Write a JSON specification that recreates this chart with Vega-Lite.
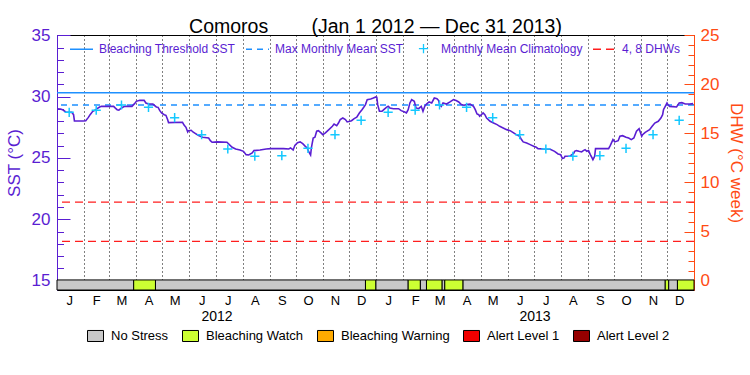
{
"$schema": "https://vega.github.io/schema/vega-lite/v6.json",
"width": 637, "height": 255,
"autosize": {"type": "none"},
"padding": {"left": 57, "top": 35, "right": 56, "bottom": 85},
"background": "white",
"title": {"text": "Comoros\u00a0\u00a0\u00a0\u00a0\u00a0\u00a0\u00a0\u00a0(Jan 1 2012 \u2014 Dec 31 2013)", "font": "Liberation Sans", "fontSize": 19.5, "fontWeight": "normal", "color": "black", "anchor": "middle", "frame": "group", "baseline": "alphabetic", "offset": -26},
"config": {"view": {"stroke": "black", "strokeWidth": 1}, "axis": {"labelFont": "Liberation Sans", "titleFont": "Liberation Sans", "titleFontWeight": "normal"}, "legend": {"labelFont": "Liberation Sans"}},
"datasets": {
"stress": [
{"start": "2012-01-01", "end": "2012-03-29", "status": "No Stress"},
{"start": "2012-03-29", "end": "2012-04-23", "status": "Bleaching Watch"},
{"start": "2012-04-23", "end": "2012-12-20", "status": "No Stress"},
{"start": "2012-12-20", "end": "2013-01-01", "status": "Bleaching Watch"},
{"start": "2013-01-01", "end": "2013-02-07", "status": "No Stress"},
{"start": "2013-02-07", "end": "2013-02-21", "status": "Bleaching Watch"},
{"start": "2013-02-21", "end": "2013-02-28", "status": "No Stress"},
{"start": "2013-02-28", "end": "2013-03-18", "status": "Bleaching Watch"},
{"start": "2013-03-18", "end": "2013-03-21", "status": "No Stress"},
{"start": "2013-03-21", "end": "2013-04-11", "status": "Bleaching Watch"},
{"start": "2013-04-11", "end": "2013-11-29", "status": "No Stress"},
{"start": "2013-11-29", "end": "2013-12-03", "status": "Bleaching Watch"},
{"start": "2013-12-03", "end": "2013-12-13", "status": "No Stress"},
{"start": "2013-12-13", "end": "2014-01-01", "status": "Bleaching Watch"}
],
"threshold": [{"label": "Bleaching Threshold SST", "sst": 30.32}],
"mmm": [{"label": "Max Monthly Mean SST", "sst": 29.32}],
"dhw8": [{"label": "4, 8 DHWs", "dhw": 8}],
"dhw4": [{"label": "4, 8 DHWs", "dhw": 4}],
"clim": [
{"date": "2012-01-15", "sst": 28.72, "label": "Monthly Mean Climatology"},
{"date": "2012-02-15", "sst": 28.89, "label": "Monthly Mean Climatology"},
{"date": "2012-03-15", "sst": 29.32, "label": "Monthly Mean Climatology"},
{"date": "2012-04-15", "sst": 29.13, "label": "Monthly Mean Climatology"},
{"date": "2012-05-15", "sst": 28.29, "label": "Monthly Mean Climatology"},
{"date": "2012-06-15", "sst": 26.9, "label": "Monthly Mean Climatology"},
{"date": "2012-07-15", "sst": 25.73, "label": "Monthly Mean Climatology"},
{"date": "2012-08-15", "sst": 25.14, "label": "Monthly Mean Climatology"},
{"date": "2012-09-15", "sst": 25.19, "label": "Monthly Mean Climatology"},
{"date": "2012-10-15", "sst": 25.79, "label": "Monthly Mean Climatology"},
{"date": "2012-11-15", "sst": 26.9, "label": "Monthly Mean Climatology"},
{"date": "2012-12-15", "sst": 28.07, "label": "Monthly Mean Climatology"},
{"date": "2013-01-15", "sst": 28.72, "label": "Monthly Mean Climatology"},
{"date": "2013-02-15", "sst": 28.89, "label": "Monthly Mean Climatology"},
{"date": "2013-03-15", "sst": 29.32, "label": "Monthly Mean Climatology"},
{"date": "2013-04-15", "sst": 29.13, "label": "Monthly Mean Climatology"},
{"date": "2013-05-15", "sst": 28.29, "label": "Monthly Mean Climatology"},
{"date": "2013-06-15", "sst": 26.9, "label": "Monthly Mean Climatology"},
{"date": "2013-07-15", "sst": 25.73, "label": "Monthly Mean Climatology"},
{"date": "2013-08-15", "sst": 25.14, "label": "Monthly Mean Climatology"},
{"date": "2013-09-15", "sst": 25.19, "label": "Monthly Mean Climatology"},
{"date": "2013-10-15", "sst": 25.79, "label": "Monthly Mean Climatology"},
{"date": "2013-11-15", "sst": 26.9, "label": "Monthly Mean Climatology"},
{"date": "2013-12-15", "sst": 28.07, "label": "Monthly Mean Climatology"}
],
"sstData": [
{"date":"2012-01-01","sst":29.02},{"date":"2012-01-05","sst":28.99},{"date":"2012-01-08","sst":28.91},{"date":"2012-01-11","sst":28.75},{"date":"2012-01-18","sst":28.72},{"date":"2012-01-20","sst":28.53},{"date":"2012-01-21","sst":28.02},{"date":"2012-01-31","sst":28.02},
{"date":"2012-02-03","sst":28.04},{"date":"2012-02-06","sst":28.31},{"date":"2012-02-08","sst":28.53},{"date":"2012-02-11","sst":28.8},{"date":"2012-02-14","sst":28.91},{"date":"2012-02-16","sst":29.02},{"date":"2012-02-19","sst":29.16},{"date":"2012-02-21","sst":29.21},
{"date":"2012-03-06","sst":29.21},{"date":"2012-03-08","sst":29.07},{"date":"2012-03-10","sst":28.94},{"date":"2012-03-12","sst":28.91},{"date":"2012-03-14","sst":29.02},{"date":"2012-03-17","sst":29.16},{"date":"2012-03-19","sst":29.21},{"date":"2012-03-27","sst":29.21},{"date":"2012-03-30","sst":29.43},
{"date":"2012-04-01","sst":29.62},{"date":"2012-04-05","sst":29.7},{"date":"2012-04-10","sst":29.7},{"date":"2012-04-12","sst":29.48},{"date":"2012-04-15","sst":29.4},{"date":"2012-04-20","sst":29.4},{"date":"2012-04-24","sst":29.16},{"date":"2012-04-26","sst":29.13},{"date":"2012-04-28","sst":28.86},{"date":"2012-04-30","sst":28.67},
{"date":"2012-05-03","sst":28.53},{"date":"2012-05-05","sst":28.48},{"date":"2012-05-07","sst":28.12},{"date":"2012-05-08","sst":27.88},{"date":"2012-05-24","sst":27.91},{"date":"2012-05-26","sst":27.66},{"date":"2012-05-28","sst":27.5},{"date":"2012-05-30","sst":27.12},{"date":"2012-05-31","sst":27.23},
{"date":"2012-06-03","sst":27.26},{"date":"2012-06-05","sst":27.12},{"date":"2012-06-08","sst":26.99},{"date":"2012-06-11","sst":26.85},{"date":"2012-06-16","sst":26.69},{"date":"2012-06-23","sst":26.63},{"date":"2012-06-25","sst":26.41},{"date":"2012-06-27","sst":26.28},
{"date":"2012-07-03","sst":26.31},{"date":"2012-07-14","sst":26.28},{"date":"2012-07-20","sst":25.87},{"date":"2012-07-24","sst":25.73},{"date":"2012-07-29","sst":25.65},
{"date":"2012-08-02","sst":25.54},{"date":"2012-08-05","sst":25.27},{"date":"2012-08-08","sst":25.24},{"date":"2012-08-12","sst":25.41},{"date":"2012-08-14","sst":25.6},{"date":"2012-08-21","sst":25.65},{"date":"2012-08-28","sst":25.73},
{"date":"2012-09-02","sst":25.76},{"date":"2012-09-17","sst":25.76},{"date":"2012-09-23","sst":25.73},{"date":"2012-09-25","sst":25.82},{"date":"2012-09-28","sst":25.65},{"date":"2012-09-30","sst":26.03},
{"date":"2012-10-03","sst":26.25},{"date":"2012-10-06","sst":26.31},{"date":"2012-10-09","sst":26.17},{"date":"2012-10-12","sst":25.95},{"date":"2012-10-14","sst":25.82},{"date":"2012-10-16","sst":25.49},{"date":"2012-10-18","sst":25.24},{"date":"2012-10-19","sst":25.87},{"date":"2012-10-21","sst":26.63},{"date":"2012-10-23","sst":26.69},{"date":"2012-10-25","sst":27.18},{"date":"2012-10-27","sst":27.23},{"date":"2012-10-30","sst":27.04},
{"date":"2012-11-01","sst":26.9},{"date":"2012-11-04","sst":27.04},{"date":"2012-11-08","sst":27.31},{"date":"2012-11-12","sst":27.58},{"date":"2012-11-14","sst":27.77},{"date":"2012-11-17","sst":27.64},{"date":"2012-11-19","sst":27.85},{"date":"2012-11-21","sst":28.13},{"date":"2012-11-24","sst":28.26},{"date":"2012-11-27","sst":28.13},{"date":"2012-11-29","sst":27.94},
{"date":"2012-12-02","sst":27.99},{"date":"2012-12-04","sst":28.04},{"date":"2012-12-07","sst":28.21},{"date":"2012-12-10","sst":28.32},{"date":"2012-12-13","sst":28.67},{"date":"2012-12-16","sst":28.94},{"date":"2012-12-18","sst":29.13},{"date":"2012-12-20","sst":29.35},{"date":"2012-12-22","sst":29.76},{"date":"2012-12-26","sst":29.81},{"date":"2012-12-29","sst":29.89},
{"date":"2013-01-01","sst":29.98},{"date":"2013-01-02","sst":29.95},{"date":"2013-01-03","sst":29.35},{"date":"2013-01-05","sst":28.81},{"date":"2013-01-08","sst":28.81},{"date":"2013-01-10","sst":28.94},{"date":"2013-01-13","sst":29.13},{"date":"2013-01-15","sst":29.21},{"date":"2013-01-17","sst":29.08},{"date":"2013-01-21","sst":29.02},{"date":"2013-01-27","sst":29.02},{"date":"2013-01-30","sst":28.86},
{"date":"2013-02-03","sst":28.75},{"date":"2013-02-05","sst":28.67},{"date":"2013-02-07","sst":28.94},{"date":"2013-02-09","sst":29.49},{"date":"2013-02-11","sst":29.76},{"date":"2013-02-14","sst":29.62},{"date":"2013-02-16","sst":29.08},{"date":"2013-02-19","sst":29.02},{"date":"2013-02-22","sst":29.21},{"date":"2013-02-24","sst":28.81},{"date":"2013-02-26","sst":29.21},{"date":"2013-02-28","sst":29.4},
{"date":"2013-03-03","sst":29.57},{"date":"2013-03-06","sst":29.49},{"date":"2013-03-09","sst":29.89},{"date":"2013-03-12","sst":29.84},{"date":"2013-03-14","sst":29.68},{"date":"2013-03-15","sst":29.35},{"date":"2013-03-17","sst":29.21},{"date":"2013-03-19","sst":29.49},{"date":"2013-03-23","sst":29.4},{"date":"2013-03-27","sst":29.57},{"date":"2013-03-31","sst":29.76},
{"date":"2013-04-03","sst":29.68},{"date":"2013-04-06","sst":29.57},{"date":"2013-04-09","sst":29.35},{"date":"2013-04-12","sst":29.3},{"date":"2013-04-15","sst":29.35},{"date":"2013-04-19","sst":29.4},{"date":"2013-04-23","sst":29.21},{"date":"2013-04-25","sst":28.94},{"date":"2013-04-27","sst":28.59},{"date":"2013-04-29","sst":28.53},{"date":"2013-04-30","sst":28.4},
{"date":"2013-05-02","sst":28.53},{"date":"2013-05-04","sst":28.67},{"date":"2013-05-06","sst":28.53},{"date":"2013-05-08","sst":28.26},{"date":"2013-05-12","sst":27.99},{"date":"2013-05-16","sst":27.85},{"date":"2013-05-20","sst":27.72},{"date":"2013-05-23","sst":27.58},{"date":"2013-05-27","sst":27.45},{"date":"2013-05-31","sst":27.31},
{"date":"2013-06-04","sst":27.23},{"date":"2013-06-08","sst":27.04},{"date":"2013-06-11","sst":26.9},{"date":"2013-06-15","sst":26.77},{"date":"2013-06-17","sst":26.5},{"date":"2013-06-19","sst":26.31},{"date":"2013-06-23","sst":26.22},{"date":"2013-06-27","sst":26.09},
{"date":"2013-07-01","sst":25.95},{"date":"2013-07-04","sst":25.87},{"date":"2013-07-06","sst":25.76},{"date":"2013-07-12","sst":25.73},{"date":"2013-07-20","sst":25.71},{"date":"2013-07-25","sst":25.54},{"date":"2013-07-29","sst":25.33},
{"date":"2013-08-01","sst":25.27},{"date":"2013-08-03","sst":24.95},{"date":"2013-08-05","sst":25.0},{"date":"2013-08-06","sst":25.14},{"date":"2013-08-12","sst":25.16},{"date":"2013-08-14","sst":25.27},{"date":"2013-08-16","sst":25.38},{"date":"2013-08-17","sst":25.54},{"date":"2013-08-19","sst":25.6},{"date":"2013-08-22","sst":25.54},{"date":"2013-08-25","sst":25.49},{"date":"2013-08-27","sst":25.6},{"date":"2013-08-29","sst":25.68},{"date":"2013-08-31","sst":25.54},
{"date":"2013-09-02","sst":25.6},{"date":"2013-09-04","sst":25.27},{"date":"2013-09-05","sst":25.14},{"date":"2013-09-07","sst":24.86},{"date":"2013-09-09","sst":25.14},{"date":"2013-09-10","sst":25.76},{"date":"2013-09-19","sst":25.76},{"date":"2013-09-25","sst":25.76},{"date":"2013-09-27","sst":26.03},{"date":"2013-09-30","sst":26.5},
{"date":"2013-10-02","sst":26.31},{"date":"2013-10-06","sst":26.41},{"date":"2013-10-08","sst":26.77},{"date":"2013-10-11","sst":26.82},{"date":"2013-10-15","sst":26.69},{"date":"2013-10-18","sst":26.63},{"date":"2013-10-21","sst":26.5},{"date":"2013-10-24","sst":26.63},{"date":"2013-10-27","sst":27.18},{"date":"2013-10-30","sst":27.39},
{"date":"2013-11-02","sst":26.77},{"date":"2013-11-03","sst":26.9},{"date":"2013-11-06","sst":27.09},{"date":"2013-11-11","sst":27.31},{"date":"2013-11-14","sst":27.58},{"date":"2013-11-17","sst":27.85},{"date":"2013-11-21","sst":27.99},{"date":"2013-11-24","sst":28.26},{"date":"2013-11-26","sst":28.53},{"date":"2013-11-27","sst":28.94},{"date":"2013-11-29","sst":29.21},
{"date":"2013-12-01","sst":29.49},{"date":"2013-12-02","sst":29.35},{"date":"2013-12-04","sst":29.21},{"date":"2013-12-08","sst":29.19},{"date":"2013-12-12","sst":29.16},{"date":"2013-12-15","sst":29.49},{"date":"2013-12-18","sst":29.51},{"date":"2013-12-22","sst":29.4},{"date":"2013-12-27","sst":29.4},{"date":"2013-12-31","sst":29.43}
]
},
"layer": [
{
"data": {"name": "stress"},
"mark": {"type": "rect", "stroke": "black", "strokeWidth": 1},
"encoding": {
"x": {"field": "start", "type": "temporal",
"scale": {"type": "utc", "domain": [{"year": 2012, "month": 1, "date": 1, "utc": true}, {"year": 2014, "month": 1, "date": 1, "utc": true}]},
"axis": {"orient": "bottom", "title": null, "ticks": false, "domain": false, "grid": false, "labelFlush": false, "format": "%b", "labelExpr": "slice(datum.label, 0, 1)", "labelFontSize": 13, "labelColor": "black", "labelPadding": 4,
"values": [
{"year":2012,"month":1,"date":15,"utc":true},{"year":2012,"month":2,"date":15,"utc":true},{"year":2012,"month":3,"date":15,"utc":true},{"year":2012,"month":4,"date":15,"utc":true},{"year":2012,"month":5,"date":15,"utc":true},{"year":2012,"month":6,"date":15,"utc":true},{"year":2012,"month":7,"date":15,"utc":true},{"year":2012,"month":8,"date":15,"utc":true},{"year":2012,"month":9,"date":15,"utc":true},{"year":2012,"month":10,"date":15,"utc":true},{"year":2012,"month":11,"date":15,"utc":true},{"year":2012,"month":12,"date":15,"utc":true},
{"year":2013,"month":1,"date":15,"utc":true},{"year":2013,"month":2,"date":15,"utc":true},{"year":2013,"month":3,"date":15,"utc":true},{"year":2013,"month":4,"date":15,"utc":true},{"year":2013,"month":5,"date":15,"utc":true},{"year":2013,"month":6,"date":15,"utc":true},{"year":2013,"month":7,"date":15,"utc":true},{"year":2013,"month":8,"date":15,"utc":true},{"year":2013,"month":9,"date":15,"utc":true},{"year":2013,"month":10,"date":15,"utc":true},{"year":2013,"month":11,"date":15,"utc":true},{"year":2013,"month":12,"date":15,"utc":true}
]}},
"x2": {"field": "end"},
"y": {"datum": 15.05, "type": "quantitative", "scale": {"domain": [14.23, 35.03], "nice": false, "zero": false},
"axis": {"orient": "left", "values": [15, 20, 25, 30, 35], "tickSize": -13, "tickColor": "#5a1ed2", "domainColor": "#5a1ed2", "labelColor": "#5a1ed2", "labelFontSize": 17, "labelPadding": 20, "grid": false, "title": "SST (\u00b0C)", "titleColor": "#5a1ed2", "titleFontSize": 17, "titlePadding": 8}},
"y2": {"datum": 14.23},
"fill": {"field": "status", "type": "nominal",
"scale": {"domain": ["No Stress", "Bleaching Watch", "Bleaching Warning", "Alert Level 1", "Alert Level 2"], "range": ["#c8c8c8", "#ccff33", "#ffaa00", "#f00000", "#960000"]},
"legend": {"orient": "none", "legendX": 30, "legendY": 292, "direction": "horizontal", "title": null, "symbolType": "M-1,-0.69H1V0.69H-1Z", "symbolSize": 256, "symbolStrokeColor": "black", "symbolStrokeWidth": 1, "labelFontSize": 13, "labelColor": "black", "labelOffset": 7, "columnPadding": 11, "labelLimit": 300}}
}
},
{
"data": {"name": "threshold"},
"mark": {"type": "rule", "strokeWidth": 1.3},
"encoding": {
"y": {"field": "sst", "type": "quantitative", "scale": {"domain": [14.23, 35.03], "nice": false, "zero": false},
"axis": {"orient": "left", "values": [15,16,17,18,19,20,21,22,23,24,25,26,27,28,29,30,31,32,33,34,35], "tickSize": -6.5, "tickColor": "#5a1ed2", "labels": false, "domain": false, "grid": false, "title": null}},
"color": {"field": "label", "type": "nominal",
"scale": {"domain": ["Bleaching Threshold SST", "Max Monthly Mean SST", "Monthly Mean Climatology", "4, 8 DHWs"], "range": ["#1e90ff", "#1e90ff", "#14c8ff", "#ff1e1e"]},
"legend": {"orient": "none", "legendX": 12, "legendY": 1, "direction": "horizontal", "title": null, "symbolType": "stroke", "symbolSize": 529, "symbolStrokeWidth": 1.3, "labelFontSize": 12, "labelColor": "#5a1ed2", "labelOffset": 5, "columnPadding": 7, "labelLimit": 300,
"encode": {"labels": {"fill": {"condition": {"test": "datum.value === '4, 8 DHWs'", "value": "#ff4b14"}, "value": "#5a1ed2"}}}}},
"strokeDash": {"field": "label", "type": "nominal",
"scale": {"domain": ["Bleaching Threshold SST", "Max Monthly Mean SST", "Monthly Mean Climatology", "4, 8 DHWs"], "range": [[1, 0], [6, 5], [1, 0], [8, 5]]}}
}
},
{
"data": {"name": "mmm"},
"mark": {"type": "rule", "strokeWidth": 1.3},
"encoding": {
"y": {"field": "sst", "type": "quantitative", "scale": {"domain": [14.23, 35.03], "nice": false, "zero": false}, "axis": null},
"color": {"field": "label", "type": "nominal"},
"strokeDash": {"field": "label", "type": "nominal"}
}
},
{
"data": {"name": "dhw8"},
"mark": {"type": "rule", "strokeWidth": 1.3},
"encoding": {
"y": {"field": "dhw", "type": "quantitative", "scale": {"domain": [-0.9625, 25.0375], "nice": false, "zero": false},
"axis": {"orient": "right", "values": [0, 5, 10, 15, 20, 25], "tickSize": -10, "tickColor": "#ff4b14", "domainColor": "#ff4b14", "labelColor": "#ff4b14", "labelFontSize": 17, "labelPadding": 16, "grid": false, "title": "DHW (\u00b0C week)", "titleColor": "#ff4b14", "titleFontSize": 17, "titlePadding": 8}},
"color": {"field": "label", "type": "nominal"},
"strokeDash": {"field": "label", "type": "nominal"}
}
},
{
"data": {"name": "dhw4"},
"mark": {"type": "rule", "strokeWidth": 1.3},
"encoding": {
"y": {"field": "dhw", "type": "quantitative", "scale": {"domain": [-0.9625, 25.0375], "nice": false, "zero": false},
"axis": {"orient": "right", "values": [0,1,2,3,4,5,6,7,8,9,10,11,12,13,14,15,16,17,18,19,20,21,22,23,24,25], "tickSize": -6, "tickColor": "#ff4b14", "labels": false, "domain": false, "grid": false, "title": null}},
"color": {"field": "label", "type": "nominal"},
"strokeDash": {"field": "label", "type": "nominal"}
}
},
{
"data": {"name": "sstData"},
"mark": {"type": "line", "color": "#5a1ed2", "strokeWidth": 1.6},
"encoding": {
"x": {"field": "date", "type": "temporal",
"scale": {"type": "utc", "domain": [{"year": 2012, "month": 1, "date": 1, "utc": true}, {"year": 2014, "month": 1, "date": 1, "utc": true}]},
"axis": {"orient": "bottom", "title": null, "ticks": false, "domain": false, "grid": false, "labelFlush": false, "format": "%Y", "labelFontSize": 14, "labelColor": "black", "labelPadding": 19,
"values": [{"year": 2012, "month": 7, "date": 2, "utc": true}, {"year": 2013, "month": 7, "date": 2, "utc": true}]}},
"y": {"field": "sst", "type": "quantitative", "scale": {"domain": [14.23, 35.03], "nice": false, "zero": false}, "axis": null}
}
},
{
"data": {"name": "clim"},
"mark": {"type": "point", "filled": false, "strokeWidth": 1.5, "opacity": 1, "size": 529},
"encoding": {
"x": {"field": "date", "type": "temporal",
"scale": {"type": "utc", "domain": [{"year": 2012, "month": 1, "date": 1, "utc": true}, {"year": 2014, "month": 1, "date": 1, "utc": true}]},
"axis": {"orient": "bottom", "title": null, "ticks": false, "domain": false, "labels": false, "grid": true, "gridColor": "black", "gridDash": [1, 3], "gridWidth": 1, "gridOpacity": 1,
"values": [
{"year":2012,"month":2,"date":1,"utc":true},{"year":2012,"month":3,"date":1,"utc":true},{"year":2012,"month":4,"date":1,"utc":true},{"year":2012,"month":5,"date":1,"utc":true},{"year":2012,"month":6,"date":1,"utc":true},{"year":2012,"month":7,"date":1,"utc":true},{"year":2012,"month":8,"date":1,"utc":true},{"year":2012,"month":9,"date":1,"utc":true},{"year":2012,"month":10,"date":1,"utc":true},{"year":2012,"month":11,"date":1,"utc":true},{"year":2012,"month":12,"date":1,"utc":true},
{"year":2013,"month":1,"date":1,"utc":true},{"year":2013,"month":2,"date":1,"utc":true},{"year":2013,"month":3,"date":1,"utc":true},{"year":2013,"month":4,"date":1,"utc":true},{"year":2013,"month":5,"date":1,"utc":true},{"year":2013,"month":6,"date":1,"utc":true},{"year":2013,"month":7,"date":1,"utc":true},{"year":2013,"month":8,"date":1,"utc":true},{"year":2013,"month":9,"date":1,"utc":true},{"year":2013,"month":10,"date":1,"utc":true},{"year":2013,"month":11,"date":1,"utc":true},{"year":2013,"month":12,"date":1,"utc":true}
]}},
"y": {"field": "sst", "type": "quantitative", "scale": {"domain": [14.23, 35.03], "nice": false, "zero": false}, "axis": null},
"color": {"field": "label", "type": "nominal"},
"shape": {"field": "label", "type": "nominal",
"scale": {"domain": ["Bleaching Threshold SST", "Max Monthly Mean SST", "Monthly Mean Climatology", "4, 8 DHWs"], "range": ["stroke", "stroke", "M-0.4,0L0.4,0M0,-0.4L0,0.4", "stroke"]}},
"strokeDash": {"field": "label", "type": "nominal"}
}
}
],
"resolve": {"scale": {"x": "independent", "y": "independent"}}
}
